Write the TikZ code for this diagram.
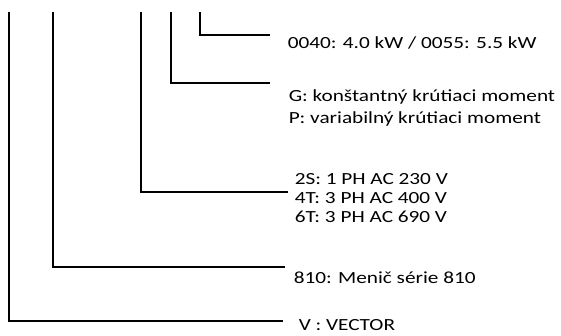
\documentclass[tikz,border=0pt]{standalone}
\usepackage{fontspec}
\setmainfont{Carlito}[FakeStretch=1.25]
\usepackage{tikz}
\usetikzlibrary{calc}

\begin{document}
\begin{tikzpicture}[x=1pt,y=-1pt,line width=1.5pt,
  lbl/.style={anchor=base west,inner sep=0pt,align=left,font=\fontsize{17}{22}\selectfont}]
\useasboundingbox (0,0) rectangle (561,335);
% tops of the code letters
\coordinate (tV) at (9,12);
\coordinate (tSer) at (53,12);
\coordinate (tVolt) at (141,12);
\coordinate (tTorq) at (171,12);
\coordinate (tPow) at (200,12);
% meanings (base = last line)
\node[lbl] (pow) at (287,48){0040: 4.0 kW / 0055: 5.5 kW};
\node[lbl] (torq) at (288,123){G: konštantný krútiaci moment\\P: variabilný krútiaci moment};
\node[lbl,font=\fontsize{17}{19}\selectfont] (volt) at (294,222){2S: 1 PH AC 230 V\\4T: 3 PH AC 400 V\\6T: 3 PH AC 690 V};
\node[lbl] (ser) at (293,283){810: Menič série 810};
\node[lbl] (vec) at (298,330){V : VECTOR};
% connectors
\draw (tPow) |- ($(pow.base west)+(-17,-13)$);
\draw (tTorq) |- ($(torq.base west)+(-18,-40)$);
\draw (tVolt) |- ($(volt.base west)+(-6,-30)$);
\draw (tSer) |- ($(ser.base west)+(-8,-16)$);
\draw (tV) |- ($(vec.base west)+(-15,-9)$);
\end{tikzpicture}
\end{document}
